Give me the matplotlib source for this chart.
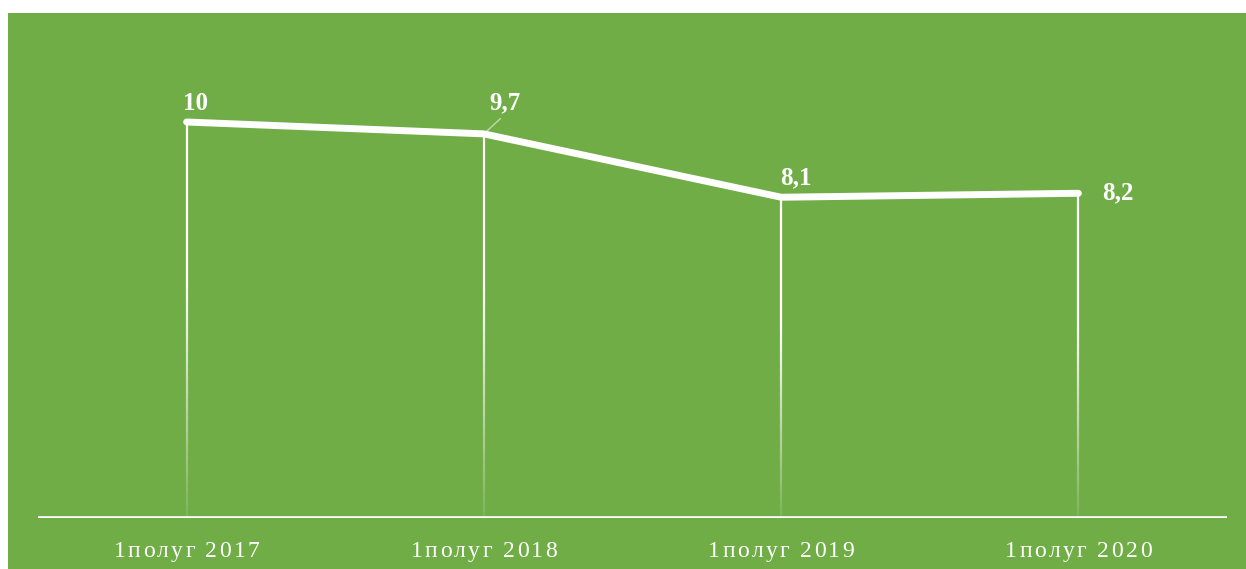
import numpy as np
import matplotlib
matplotlib.use("Agg")
import matplotlib.pyplot as plt
from matplotlib.collections import LineCollection
from matplotlib.patches import Rectangle
from matplotlib.font_manager import FontProperties, findfont, get_font

categories = ["1полуг 2017", "1полуг 2018", "1полуг 2019", "1полуг 2020"]
values = [10, 9.7, 8.1, 8.2]
value_labels = ["10", "9,7", "8,1", "8,2"]

GREEN = "#70AD47"
W, H = 1246, 569


def char_advances(text, prop):
    """Advance widths (points) of each character for the given font."""
    font = get_font(findfont(prop))
    font.set_size(prop.get_size_in_points(), 72)
    return [font.load_char(ord(c)).linearHoriAdvance / 65536 for c in text]


def spaced_label(ax, x, text, prop, tracking, dy):
    """Draw text centred at data x with extra letter spacing (points)."""
    adv = char_advances(text, prop)
    total = sum(adv) + tracking * (len(text) - 1)
    pos = -total / 2
    for ch, a in zip(text, adv):
        ax.annotate(ch, xy=(x, 0), xycoords=("data", "axes fraction"),
                    xytext=(pos, dy), textcoords="offset points",
                    ha="left", va="baseline", color="white",
                    fontproperties=prop, annotation_clip=False)
        pos += a + tracking


fig = plt.figure(figsize=(W / 100, H / 100), dpi=100, facecolor="white")
fig.patches.append(Rectangle((8 / W, 0), 1 - 8 / W, (H - 13) / H,
                             transform=fig.transFigure, facecolor=GREEN,
                             edgecolor="none", zorder=-10))

ax = fig.add_axes([38 / W, 51 / H, 1189 / W, 505 / H])
ax.set_facecolor("none")
ax.set_xlim(-0.5, len(categories) - 0.5)
ax.set_ylim(0, 505 / 39.6)
for s in ax.spines.values():
    s.set_visible(False)
ax.set_xticks([])
ax.set_yticks([])

xs = np.arange(len(categories))

# vertical drop lines fading towards the bottom
n = 60
for x, v in zip(xs, values):
    ys = np.linspace(0, v, n + 1)
    segs = [[(x, ys[i]), (x, ys[i + 1])] for i in range(n)]
    alphas = np.clip(np.linspace(0.1, 1.6, n), 0, 1)
    cols = [(1, 1, 1, a) for a in alphas]
    ax.add_collection(LineCollection(segs, colors=cols, linewidths=1.6,
                                     capstyle="butt", zorder=2))

# baseline
ax.axhline(0, color="white", lw=2.6, zorder=3)

# main line
ax.plot(xs, values, color="white", lw=5.0, solid_capstyle="round",
        solid_joinstyle="round", zorder=4)

lab_font = dict(family="Liberation Serif", weight="bold", size=18, color="white")
ax.annotate(value_labels[0], (xs[0], values[0]), xytext=(-2.5, 8.6),
            textcoords="offset points", ha="left", va="baseline", **lab_font)
ax.annotate(value_labels[1], (xs[1], values[1]), xytext=(4.3, 18),
            textcoords="offset points", ha="left", va="baseline",
            arrowprops=dict(arrowstyle="-", color=(1, 1, 1, 0.55), lw=1,
                            relpos=(0.5, 0), shrinkA=2, shrinkB=1),
            **lab_font)
ax.annotate(value_labels[2], (xs[2], values[2]), xytext=(-0.5, 9),
            textcoords="offset points", ha="left", va="baseline", **lab_font)
ax.annotate(value_labels[3], (xs[3], values[3]), xytext=(17, 0),
            textcoords="offset points", ha="left", va="center", **lab_font)

tick_prop = FontProperties(family="Liberation Serif", size=17)
for x, c in zip(xs, categories):
    spaced_label(ax, x, c, tick_prop, 1.7, -28)

fig.savefig("out.png", dpi=100, facecolor="white")
